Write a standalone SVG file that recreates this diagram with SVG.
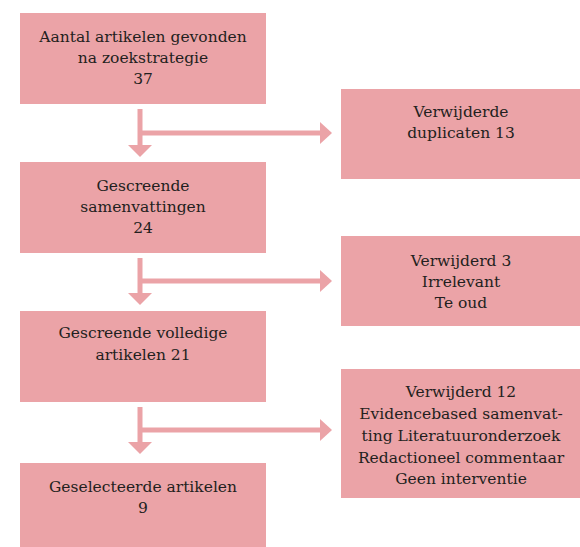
<svg xmlns="http://www.w3.org/2000/svg" width="580" height="547" viewBox="0 0 580 547">
<style>
.box{fill:#eba3a7}
.t{font-family:'DejaVu Serif',serif;font-size:15.5px;fill:#231f20;text-anchor:middle}
.ln{stroke:#eba3a7;stroke-width:5;fill:none}
.ah{fill:#eba3a7}
</style>
<rect width="580" height="547" fill="#ffffff"/>
<g id="n1"><rect class="box" x="20" y="13" width="246" height="91"/>
<text class="t" x="143" y="42">Aantal artikelen gevonden</text>
<text class="t" x="143" y="63">na zoekstrategie</text>
<text class="t" x="143" y="84">37</text></g>
<g id="n2"><rect class="box" x="20" y="162" width="246" height="91"/>
<text class="t" x="143" y="191">Gescreende</text>
<text class="t" x="143" y="212">samenvattingen</text>
<text class="t" x="143" y="233">24</text></g>
<g id="n3"><rect class="box" x="20" y="311" width="246" height="91"/>
<text class="t" x="143" y="338">Gescreende volledige</text>
<text class="t" x="143" y="360">artikelen 21</text></g>
<g id="n4"><rect class="box" x="20" y="463" width="246" height="84"/>
<text class="t" x="143" y="492">Geselecteerde artikelen</text>
<text class="t" x="143" y="513">9</text></g>
<g id="r1"><rect class="box" x="341" y="89" width="239" height="90"/>
<text class="t" x="461" y="117">Verwijderde</text>
<text class="t" x="461" y="138">duplicaten 13</text></g>
<g id="r2"><rect class="box" x="341" y="236" width="239" height="90"/>
<text class="t" x="461" y="266">Verwijderd 3</text>
<text class="t" x="461" y="287">Irrelevant</text>
<text class="t" x="461" y="308">Te oud</text></g>
<g id="r3"><rect class="box" x="341" y="369" width="239" height="129"/>
<text class="t" x="461" y="397">Verwijderd 12</text>
<text class="t" x="461" y="419">Evidencebased samenvat-</text>
<text class="t" x="461" y="441">ting Literatuuronderzoek</text>
<text class="t" x="461" y="463">Redactioneel commentaar</text>
<text class="t" x="461" y="484">Geen interventie</text></g>
<g id="connectors">
<path class="ln" d="M140 109V146M140 133H321"/>
<polygon class="ah" points="128,145 152,145 140,157"/>
<polygon class="ah" points="320,122 332,133 320,144"/>
<path class="ln" d="M140 258V294M140 281H321"/>
<polygon class="ah" points="128,293 152,293 140,305"/>
<polygon class="ah" points="320,270 332,281 320,292"/>
<path class="ln" d="M140 407V443M140 430H321"/>
<polygon class="ah" points="128,442 152,442 140,454"/>
<polygon class="ah" points="320,419 332,430 320,441"/>
</g>
</svg>
